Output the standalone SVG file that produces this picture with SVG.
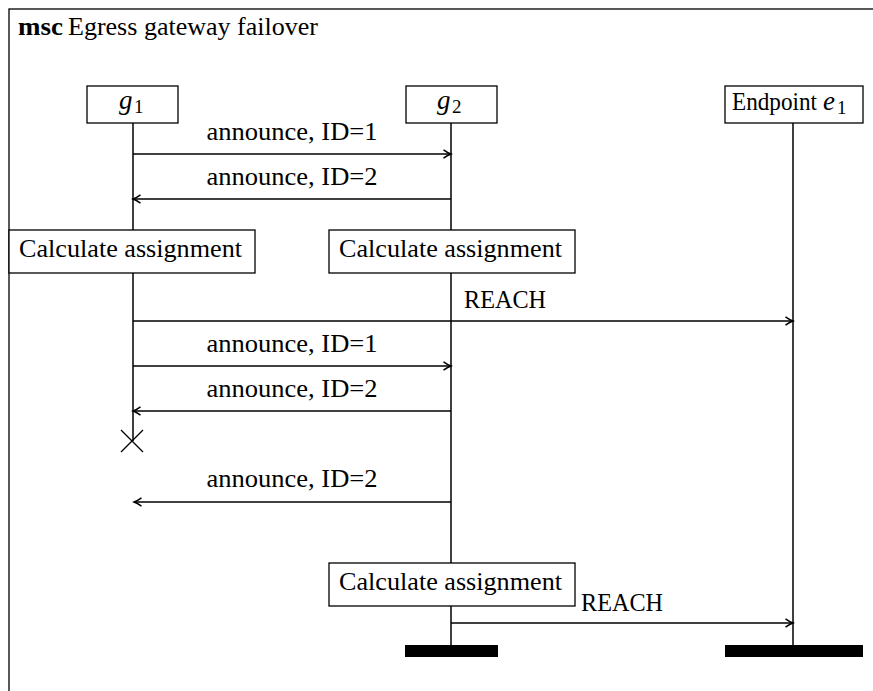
<svg xmlns="http://www.w3.org/2000/svg" width="873" height="691" viewBox="0 0 873 691">
<style>
text{font-family:"Liberation Serif","Times New Roman",serif;font-size:25px;fill:#000}
.lbl{text-anchor:middle}
.box{fill:#fff;stroke:#000;stroke-width:1.3}
.life{stroke:#000;stroke-width:1.5;fill:none}
.msg{stroke:#000;stroke-width:1.3;fill:none;marker-end:url(#arr)}
.it{font-style:italic;font-size:27px}
.sub{font-size:19px}
</style>
<defs>
<marker id="arr" viewBox="-8 -5 10 10" refX="0" refY="0" markerWidth="10" markerHeight="10" markerUnits="userSpaceOnUse" orient="auto">
<path d="M-7.5,-4.2 Q-3,-1 0,0 Q-3,1 -7.5,4.2" fill="none" stroke="#000" stroke-width="1.5"/>
</marker>
</defs>
<rect x="9" y="9" width="900" height="700" fill="#fff" stroke="#000" stroke-width="1.3"/>
<g id="title">
<text x="18" y="35" font-weight="bold" textLength="45" lengthAdjust="spacingAndGlyphs">msc</text>
<text x="68" y="35" textLength="250" lengthAdjust="spacingAndGlyphs">Egress gateway failover</text>
</g>
<g id="lifelines">
<line class="life" x1="133" y1="123" x2="133" y2="230"/>
<line class="life" x1="133" y1="273" x2="133" y2="441"/>
<line class="life" x1="451" y1="123" x2="451" y2="230"/>
<line class="life" x1="451" y1="273" x2="451" y2="563"/>
<line class="life" x1="451" y1="606" x2="451" y2="645"/>
<line class="life" x1="793" y1="123" x2="793" y2="645"/>
</g>
<g id="g1">
<rect class="box" x="87" y="86" width="91" height="37"/>
<text x="119" y="109" class="it">g</text>
<text x="134" y="113" class="sub">1</text>
</g>
<g id="g2">
<rect class="box" x="406" y="86" width="91" height="37"/>
<text x="437" y="109" class="it">g</text>
<text x="452" y="113" class="sub">2</text>
</g>
<g id="e1">
<rect class="box" x="725" y="86" width="138" height="37"/>
<text x="732" y="110" textLength="85" lengthAdjust="spacingAndGlyphs">Endpoint</text>
<text x="823" y="110" class="it">e</text>
<text x="837" y="114" class="sub">1</text>
</g>
<g id="calc1">
<rect class="box" x="9" y="230" width="246" height="43"/>
<text x="19" y="257" textLength="223" lengthAdjust="spacingAndGlyphs">Calculate assignment</text>
</g>
<g id="calc2">
<rect class="box" x="329" y="230" width="246" height="43"/>
<text x="339" y="257" textLength="223" lengthAdjust="spacingAndGlyphs">Calculate assignment</text>
</g>
<g id="calc3">
<rect class="box" x="329" y="563" width="246" height="43"/>
<text x="339" y="590" textLength="223" lengthAdjust="spacingAndGlyphs">Calculate assignment</text>
</g>
<g id="stop-g1">
<path d="M121,430 L143,452 M143,430 L121,452" stroke="#000" stroke-width="1.3"/>
</g>
<g id="end-g2"><rect x="405" y="645" width="93" height="12" fill="#000"/></g>
<g id="end-e1"><rect x="725" y="645" width="138" height="12" fill="#000"/></g>
<g id="connectors">
<line class="msg" x1="133" y1="154" x2="451" y2="154"/>
<line class="msg" x1="451" y1="199" x2="133" y2="199"/>
<line class="msg" x1="133" y1="321" x2="793" y2="321"/>
<line class="msg" x1="133" y1="366" x2="451" y2="366"/>
<line class="msg" x1="451" y1="411" x2="133" y2="411"/>
<line class="msg" x1="451" y1="502" x2="134" y2="502"/>
<line class="msg" x1="451" y1="623" x2="793" y2="623"/>
<text class="lbl" x="292" y="140" textLength="171" lengthAdjust="spacingAndGlyphs">announce, ID=1</text>
<text class="lbl" x="292" y="185" textLength="171" lengthAdjust="spacingAndGlyphs">announce, ID=2</text>
<text x="464" y="308" textLength="82" lengthAdjust="spacingAndGlyphs">REACH</text>
<text class="lbl" x="292" y="352" textLength="171" lengthAdjust="spacingAndGlyphs">announce, ID=1</text>
<text class="lbl" x="292" y="397" textLength="171" lengthAdjust="spacingAndGlyphs">announce, ID=2</text>
<text class="lbl" x="292" y="487" textLength="171" lengthAdjust="spacingAndGlyphs">announce, ID=2</text>
<text class="lbl" x="622" y="611" textLength="82" lengthAdjust="spacingAndGlyphs">REACH</text>
</g>
</svg>
